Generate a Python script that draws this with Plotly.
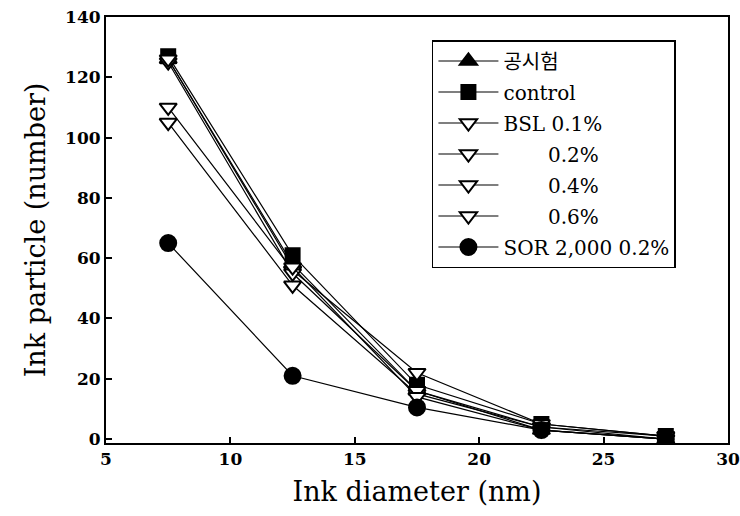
import plotly.graph_objects as go

x_vals = [7.5, 12.5, 17.5, 22.5, 27.5]

names = ["공시험", "control", "BSL 0.1%",
         "\u00a0" * 7 + "0.2%", "\u00a0" * 7 + "0.4%", "\u00a0" * 7 + "0.6%",
         "SOR 2,000 0.2%"]

blank = [126, 58, 16, 3, 0]
control = [127, 61, 18, 5, 1]
bsl_01 = [110, 56, 22, 5, 1]
bsl_02 = [105, 51, 15, 4, 0]
bsl_04 = [125, 55, 16, 4, 1]
bsl_06 = [126, 57, 14, 3, 0]
sor = [65, 21, 10.5, 3, 0]

series = [blank, control, bsl_01, bsl_02, bsl_04, bsl_06, sor]
symbols = ["triangle-up", "square", "triangle-down", "triangle-down",
           "triangle-down", "triangle-down", "circle"]
fills = ["black", "black", "white", "white", "white", "white", "black"]
sizes = [15, 14, 15, 15, 15, 15, 16]

FONT = "DejaVu Serif, Noto Sans CJK KR, serif"

fig = go.Figure()
for i, (nm, ys) in enumerate(zip(names, series)):
    fig.add_trace(go.Scatter(
        x=x_vals, y=ys, name=nm, mode="lines+markers",
        line=dict(color="black", width=1.2),
        marker=dict(symbol=symbols[i], size=sizes[i], color=fills[i],
                    line=dict(color="black", width=2)),
        legendgroup=str(i),
    ))

fig.update_layout(
    width=740, height=516,
    margin=dict(l=106, r=12, t=17, b=73, autoexpand=False),
    paper_bgcolor="white", plot_bgcolor="white",
    font=dict(family=FONT, color="black"),
    showlegend=True,
    legend=dict(
        x=0.524, y=0.946, xanchor="left", yanchor="top",
        bordercolor="black", borderwidth=1.5, bgcolor="white",
        font=dict(size=20, family=FONT, color="black"),
        tracegroupgap=2, itemwidth=60,
    ),
    xaxis=dict(
        range=[5, 30], tickvals=[5, 10, 15, 20, 25, 30],
        ticks="inside", ticklen=6, tickwidth=1.5, tickcolor="black",
        showline=True, linecolor="black", linewidth=2, mirror=True,
        showgrid=False, zeroline=False, automargin=False,
        tickfont=dict(size=17, family=FONT, weight="bold"),
        title=dict(text="Ink diameter (nm)", font=dict(size=27, family=FONT), standoff=14),
    ),
    yaxis=dict(
        range=[-1.3, 140], tickvals=[0, 20, 40, 60, 80, 100, 120, 140],
        ticks="inside", ticklen=6, tickwidth=1.5, tickcolor="black",
        showline=True, linecolor="black", linewidth=2, mirror=True,
        showgrid=False, zeroline=False, automargin=False,
        tickfont=dict(size=17, family=FONT, weight="bold"),
        title=dict(text="Ink particle (number)", font=dict(size=27, family=FONT), standoff=12),
    ),
)

fig.write_html("out.html")
